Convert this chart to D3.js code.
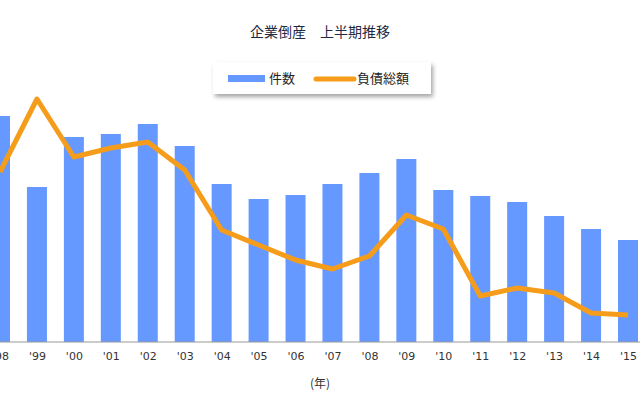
<!DOCTYPE html>
<html><head><meta charset="utf-8">
<script src="https://cdn.jsdelivr.net/npm/d3@7"></script>
<style>body{margin:0;background:#fff}</style>
</head><body>
<svg id="chart" width="640" height="400"></svg>
<script>
const years = ["'98","'99","'00","'01","'02","'03","'04","'05","'06","'07","'08","'09","'10","'11","'12","'13","'14","'15"];
const counts = [226,155,205,208,218,196,158,143,147,158,169,183,152,146,140,126,113,102];
const debt = [170,243,185,194,200,172,112,97,82,73,86,127,113,46,54,49,29,27];

const svg = d3.select('#chart');
const base = 342;

const x = d3.scalePoint().domain(years).range([0, 628]);
const y = d3.scaleLinear().domain([0, 250]).range([base, 92]);

svg.append('text')
    .text('企業倒産　上半期推移')
    .attr('x', 320).attr('y', 37)
    .attr('text-anchor', 'middle')
    .attr('font-size', 14)
    .attr('font-family', 'Noto Sans CJK JP')
    .attr('fill', '#1f2a44')

// legend with shadow
const defs = svg.append('defs')
const f = defs.append('filter').attr('id', 'sh').attr('x', '-10%').attr('y', '-20%').attr('width', '130%').attr('height', '160%')
f.append('feDropShadow').attr('dx', 2).attr('dy', 3).attr('stdDeviation', 2).attr('flood-color', '#000').attr('flood-opacity', 0.35)

const lg = svg.append('g')
lg.append('rect').attr('x', 213).attr('y', 62).attr('width', 218).attr('height', 32).attr('fill', '#fff').attr('filter', 'url(#sh)')
lg.append('rect').attr('x', 228).attr('y', 75).attr('width', 37).attr('height', 7).attr('fill', '#6699ff')
lg.append('text').text('件数').attr('x', 269).attr('y', 83).attr('font-size', 13).attr('font-family', 'Noto Sans CJK JP').attr('fill', '#222')
lg.append('line').attr('x1', 316).attr('x2', 354).attr('y1', 79).attr('y2', 79).attr('stroke', '#f59c1a').attr('stroke-width', 5).attr('stroke-linecap', 'round')
lg.append('text').text('負債総額').attr('x', 357).attr('y', 83).attr('font-size', 13).attr('font-family', 'Noto Sans CJK JP').attr('fill', '#222')

svg.append('g').selectAll('rect').data(counts).join('rect')
    .attr('x', (d, i) => x(years[i]) - 10)
    .attr('width', 20)
    .attr('y', d => y(d))
    .attr('height', d => base - y(d))
    .attr('fill', '#6699ff')

const xAxis = svg.append('g').attr('transform', 'translate(0,' + base + ')')
    .call(d3.axisBottom(x).tickSize(0).tickPadding(10))
xAxis.select('.domain').attr('stroke', '#999').attr('d', 'M-10,0H650')
xAxis.selectAll('.tick text').attr('font-size', 11).attr('font-family', 'Verdana, DejaVu Sans').attr('fill', '#333')

svg.append('path')
    .datum(debt)
    .attr('d', d3.line().x((d, i) => x(years[i])).y(d => y(d)))
    .attr('fill', 'none')
    .attr('stroke', '#f59c1a')
    .attr('stroke-width', 5)
    .attr('stroke-linejoin', 'round')

svg.append('text')
    .text('(年)')
    .attr('x', 320).attr('y', 388)
    .attr('text-anchor', 'middle')
    .attr('font-size', 12)
    .attr('font-family', 'Noto Sans CJK JP')
    .attr('fill', '#333')
</script>
</body></html>
